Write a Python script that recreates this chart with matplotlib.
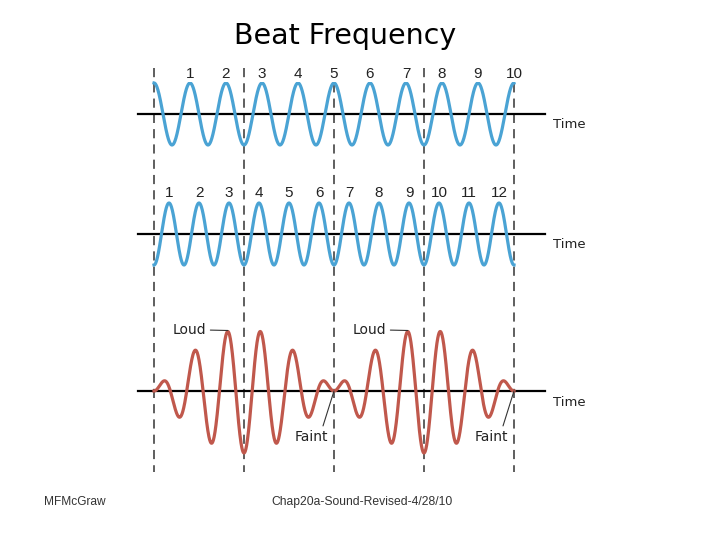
import numpy as np
from matplotlib import pyplot as plt

# the two tones: cycles counted over the drawn time span
cyclesTop = 10
cyclesMid = 12
topLabels = [str(i) for i in range(1, 11)]
midLabels = [str(i) for i in range(1, 13)]
# dashed marker times (fraction of the span)
markTimes = [0.0, 0.25, 0.5, 0.75, 1.0]
loudTimes = [0.25, 0.75]
faintTimes = [0.5, 1.0]

BLUE = "#4aa3d4"
RED = "#c0584c"

# layout in pixels (y) and span units (x)
PX = 360.0
X0 = 154.0
AMP = 31.0
baseTop, baseMid, baseSum = 114, 234, 391

fig = plt.figure(figsize=(7.2, 5.4), dpi=100)
ax = fig.add_axes([0, 0, 1, 1])
ax.set_xlim(-X0 / PX, (720 - X0) / PX)
ax.set_ylim(540, 0)
ax.axis("off")

s = np.linspace(0, 1, 2000)
top = np.cos(2 * np.pi * cyclesTop * s)
mid = -np.cos(2 * np.pi * cyclesMid * s)
beat = top + mid

# axes lines and Time labels
for b in [baseTop, baseMid, baseSum]:
    ax.plot([(138 - X0) / PX, (545 - X0) / PX], [b, b], color="black", lw=1.6, zorder=2)
    ax.text((553 - X0) / PX, b + 11, "Time", fontsize=9.5, color="#222222",
            family="DejaVu Sans", ha="left", va="center")

# dashed verticals
for t in markTimes:
    ax.plot([t, t], [68, 472], color="#333333", lw=1.1, ls=(0, (6, 4)), zorder=1)

ax.plot(s, baseTop - AMP * top, color=BLUE, lw=2.3, zorder=3)
ax.plot(s, baseMid - AMP * mid, color=BLUE, lw=2.3, zorder=3)
ax.plot(s, baseSum - AMP * beat, color=RED, lw=2.3, zorder=3)

# cycle numbers above peaks
box = dict(facecolor="white", edgecolor="none", pad=0.5)
for i, lab in enumerate(topLabels):
    ax.text((i + 1) / cyclesTop, 74, lab, fontsize=11, ha="center", va="center",
            family="Liberation Sans", color="#222222", bbox=box, zorder=4)
for i, lab in enumerate(midLabels):
    ax.text((i + 0.5) / cyclesMid, 193, lab, fontsize=11, ha="center", va="center",
            family="Liberation Sans", color="#222222", bbox=box, zorder=4)

# Loud / Faint annotations
for t in loudTimes:
    win = (s > t - 0.08) & (s < t - 0.02)
    k = np.argmin(np.where(win, -beat, np.inf))
    ax.annotate("Loud", xy=(s[k], baseSum - AMP * beat[k] - 1),
                xytext=(t - 0.105, 330), fontsize=10, ha="right", va="center",
                family="DejaVu Sans", color="#222222",
                arrowprops=dict(arrowstyle="-", color="#333333", lw=0.8,
                                relpos=(1.0, 0.5), shrinkA=1, shrinkB=0))
for t in faintTimes:
    ax.annotate("Faint", xy=(t, baseSum), xytext=(t - 0.062, 437), fontsize=10,
                ha="center", va="center", family="DejaVu Sans", color="#222222",
                arrowprops=dict(arrowstyle="-", color="#333333", lw=0.8,
                                relpos=(0.8, 1.0), shrinkA=1, shrinkB=0))

fig.text(345 / 720, 1 - 36 / 540, "Beat Frequency", fontsize=20.5, ha="center",
         va="center", family="DejaVu Sans")
fig.text(44 / 720, 1 - 502 / 540, "MFMcGraw", fontsize=8.6, ha="left", va="center",
         family="Liberation Sans", color="#333333")
fig.text(271 / 720, 1 - 502 / 540, "Chap20a-Sound-Revised-4/28/10", fontsize=8.7,
         ha="left", va="center", family="Liberation Sans", color="#333333")

fig.savefig("out.png", dpi=100)
